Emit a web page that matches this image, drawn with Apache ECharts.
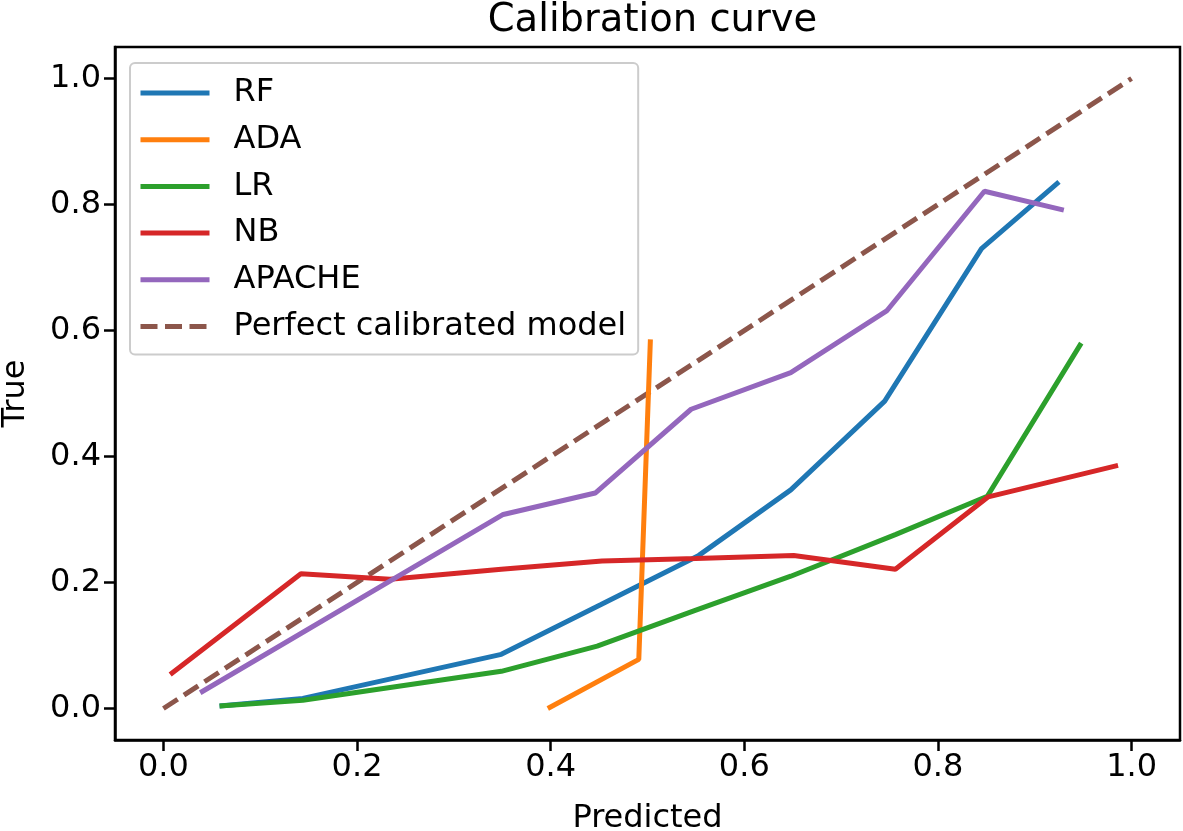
<!DOCTYPE html>
<html>
<head>
<meta charset="utf-8">
<script src="https://cdn.jsdelivr.net/npm/echarts@6/dist/echarts.min.js"></script>
<style>
html,body{margin:0;padding:0;background:#fff;}
#chart{width:1183px;height:831px;}
</style>
</head>
<body>
<div id="chart"></div>
<script>
// Data (x = mean predicted, y = fraction true)
const rfX = [0.058, 0.144, 0.349, 0.452, 0.553, 0.648, 0.745, 0.845, 0.925];
const rfY = [0.004, 0.016, 0.086, 0.165, 0.243, 0.347, 0.488, 0.730, 0.836];
const adaX = [0.397, 0.491, 0.503];
const adaY = [0.000, 0.078, 0.586];
const lrX = [0.058, 0.144, 0.349, 0.448, 0.550, 0.648, 0.756, 0.851, 0.948];
const lrY = [0.004, 0.013, 0.059, 0.099, 0.156, 0.210, 0.276, 0.337, 0.580];
const nbX = [0.007, 0.142, 0.234, 0.349, 0.453, 0.550, 0.651, 0.756, 0.852, 0.986];
const nbY = [0.054, 0.214, 0.205, 0.221, 0.234, 0.238, 0.243, 0.221, 0.336, 0.386];
const apX = [0.038, 0.351, 0.446, 0.545, 0.648, 0.747, 0.848, 0.930];
const apY = [0.025, 0.308, 0.342, 0.475, 0.533, 0.631, 0.821, 0.791];
const perfX = [0, 1];
const perfY = [0, 1];
const tickValues = [0, 0.2, 0.4, 0.6, 0.8, 1.0];
const seriesNames = ['RF', 'ADA', 'LR', 'NB', 'APACHE', 'Perfect calibrated model'];
const colors = ['#1f77b4', '#ff7f0e', '#2ca02c', '#d62728', '#9467bd', '#8c564b'];

const FONT = 'DejaVu Sans';
const FS = 32;
const LW = 5;
const DASH = [17, 7.5];
const pair = (xs, ys) => xs.map((x, i) => [x, ys[i]]);
const allData = [pair(rfX, rfY), pair(adaX, adaY), pair(lrX, lrY), pair(nbX, nbY), pair(apX, apY), pair(perfX, perfY)];

const chart = echarts.init(document.getElementById('chart'), null, {renderer: 'canvas'});

function axisCommon(isX) {
  return {
    type: 'value',
    min: -0.05,
    max: 1.05,
    splitLine: {show: false},
    axisLine: {show: true, onZero: false, lineStyle: {color: '#000', width: 2.5}},
    axisTick: {show: true, customValues: tickValues, length: 11, inside: false, lineStyle: {color: '#000', width: 2.5}},
    axisLabel: {
      customValues: tickValues,
      formatter: v => v.toFixed(1),
      color: '#000', fontFamily: FONT, fontSize: FS,
      margin: isX ? 12 : 14
    },
    nameTextStyle: {color: '#000', fontFamily: FONT, fontSize: FS},
    nameLocation: 'middle'
  };
}

const xAxis = Object.assign(axisCommon(true), {name: 'Predicted', nameGap: 63});
const yAxis = Object.assign(axisCommon(false), {name: 'True', nameGap: 83, nameRotate: 90});

const series = allData.map((d, i) => ({
  name: seriesNames[i],
  type: 'line',
  data: d,
  showSymbol: false,
  symbol: 'none',
  animation: false,
  lineStyle: {
    color: colors[i],
    width: LW,
    type: i === 5 ? DASH : 'solid',
    cap: 'butt'
  },
  itemStyle: {color: colors[i]},
  z: i === 5 ? 1 : 2 + i
}));

const legendData = seriesNames.map((n, i) => ({
  name: n,
  itemStyle: {opacity: 0},
  lineStyle: {width: LW, color: colors[i], type: i === 5 ? DASH : 'solid', cap: 'butt'}
}));

chart.setOption({
  backgroundColor: '#fff',
  animation: false,
  title: {
    text: 'Calibration curve',
    left: 647.5,
    textAlign: 'center',
    top: -4,
    textStyle: {fontFamily: FONT, fontSize: 38.5, fontWeight: 'normal', color: '#000'}
  },
  grid: {
    left: 115, top: 47, right: 3, bottom: 91,
    show: true, borderColor: '#000', borderWidth: 2.5, backgroundColor: 'transparent',
    containLabel: false,
    outerBoundsMode: 'none'
  },
  legend: {
    left: 130, top: 63,
    orient: 'vertical',
    data: legendData,
    itemWidth: 69,
    itemHeight: 14,
    itemGap: 14.7,
    padding: [14, 12, 12, 8],
    backgroundColor: '#fff',
    borderColor: '#cccccc',
    borderWidth: 2,
    borderRadius: 5,
    selectedMode: false,
    textStyle: {fontFamily: FONT, fontSize: FS, color: '#000', lineHeight: 32, padding: [0, 0, 0, 19]}
  },
  xAxis: xAxis,
  yAxis: yAxis,
  series: series
});
</script>
</body>
</html>
